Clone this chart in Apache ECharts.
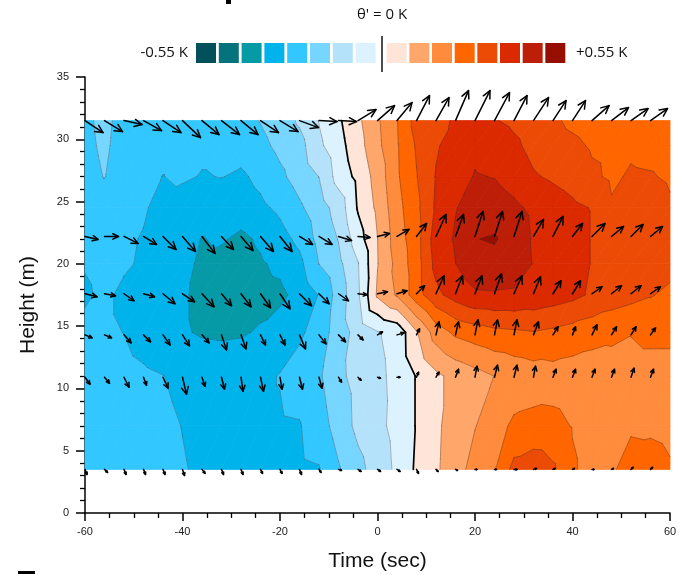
<!DOCTYPE html>
<html>
<head>
<meta charset="utf-8">
<script src="https://cdn.jsdelivr.net/npm/echarts@6/dist/echarts.min.js"></script>
<style>
  html, body { margin: 0; padding: 0; background: #fff; }
  #chart { width: 679px; height: 575px; }
</style>
</head>
<body>
<div id="chart"></div>
<script>
// grid of theta' (K), one array per height, columns = times
const times = [-60, -56, -52, -48, -44, -40, -36, -32, -28, -24, -20, -16, -12, -8, -4, 0, 4, 8, 12, 16, 20, 24, 28, 32, 36, 40, 44, 48, 52, 56, 60]
const heights = [3.5, 7, 11, 14.5, 17.5, 20, 22, 24.5, 27, 29.5, 31.5]

const theta_h3_5 = [-0.238, -0.245, -0.252, -0.259, -0.266, -0.277, -0.287, -0.294, -0.298, -0.298, -0.294, -0.291, -0.284, -0.217, -0.161, -0.109, -0.056, 0.011, 0.060, 0.109, 0.168, 0.207, 0.301, 0.322, 0.291, 0.217, 0.189, 0.203, 0.231, 0.235, 0.217]
const theta_h7 = [-0.238, -0.245, -0.252, -0.259, -0.270, -0.281, -0.291, -0.298, -0.298, -0.294, -0.287, -0.284, -0.245, -0.179, -0.123, -0.088, -0.049, 0.004, 0.056, 0.105, 0.137, 0.179, 0.224, 0.231, 0.228, 0.207, 0.189, 0.189, 0.203, 0.200, 0.193]
const theta_h11 = [-0.245, -0.252, -0.259, -0.270, -0.279, -0.291, -0.301, -0.305, -0.301, -0.294, -0.277, -0.252, -0.221, -0.154, -0.119, -0.084, -0.053, 0.004, 0.056, 0.091, 0.116, 0.141, 0.161, 0.175, 0.182, 0.175, 0.168, 0.172, 0.175, 0.175, 0.175]
const theta_h14_5 = [-0.266, -0.270, -0.281, -0.305, -0.322, -0.343, -0.357, -0.361, -0.357, -0.343, -0.319, -0.291, -0.252, -0.172, -0.116, -0.074, -0.049, 0.063, 0.172, 0.224, 0.245, 0.263, 0.270, 0.277, 0.266, 0.252, 0.238, 0.228, 0.214, 0.231, 0.231]
const theta_h17_5 = [-0.287, -0.270, -0.291, -0.308, -0.322, -0.343, -0.364, -0.375, -0.378, -0.371, -0.364, -0.329, -0.277, -0.182, -0.081, 0.081, 0.147, 0.249, 0.333, 0.378, 0.410, 0.413, 0.410, 0.399, 0.385, 0.368, 0.340, 0.315, 0.301, 0.284, 0.266]
const theta_h20 = [-0.277, -0.266, -0.273, -0.287, -0.308, -0.333, -0.361, -0.371, -0.375, -0.357, -0.336, -0.298, -0.209, -0.158, -0.074, 0.067, 0.161, 0.249, 0.371, 0.419, 0.462, 0.469, 0.455, 0.417, 0.399, 0.378, 0.347, 0.322, 0.315, 0.308, 0.301]
const theta_h22 = [-0.252, -0.259, -0.270, -0.284, -0.308, -0.329, -0.352, -0.343, -0.364, -0.340, -0.305, -0.263, -0.189, -0.137, -0.032, 0.069, 0.175, 0.252, 0.385, 0.427, 0.488, 0.496, 0.462, 0.413, 0.392, 0.375, 0.347, 0.322, 0.315, 0.308, 0.301]
const theta_h24_5 = [-0.245, -0.252, -0.263, -0.273, -0.301, -0.315, -0.322, -0.329, -0.315, -0.294, -0.266, -0.221, -0.172, -0.112, 0.007, 0.084, 0.186, 0.263, 0.361, 0.417, 0.448, 0.455, 0.434, 0.406, 0.385, 0.364, 0.347, 0.287, 0.315, 0.308, 0.287]
const theta_h27 = [-0.231, -0.208, -0.245, -0.266, -0.281, -0.270, -0.284, -0.278, -0.291, -0.263, -0.224, -0.182, -0.139, -0.042, 0.018, 0.098, 0.200, 0.277, 0.354, 0.392, 0.424, 0.418, 0.392, 0.357, 0.340, 0.322, 0.291, 0.270, 0.287, 0.284, 0.273]
const theta_h29_5 = [-0.224, -0.200, -0.235, -0.252, -0.263, -0.266, -0.266, -0.266, -0.252, -0.228, -0.193, -0.165, -0.084, -0.025, 0.042, 0.123, 0.203, 0.287, 0.343, 0.378, 0.406, 0.392, 0.364, 0.329, 0.308, 0.294, 0.273, 0.266, 0.270, 0.263, 0.259]
const theta_h31_5 = [-0.221, -0.196, -0.231, -0.245, -0.252, -0.252, -0.252, -0.245, -0.231, -0.207, -0.175, -0.130, -0.067, -0.011, 0.056, 0.130, 0.207, 0.308, 0.340, 0.354, 0.371, 0.354, 0.336, 0.315, 0.291, 0.266, 0.252, 0.245, 0.245, 0.252, 0.252]

const thetaRows = [theta_h3_5, theta_h7, theta_h11, theta_h14_5, theta_h17_5, theta_h20, theta_h22, theta_h24_5, theta_h27, theta_h29_5, theta_h31_5]

// contour levels (K) and the 16 band colours
const levels = [-0.49, -0.42, -0.35, -0.28, -0.21, -0.14, -0.07, 0, 0.07, 0.14, 0.21, 0.28, 0.35, 0.42, 0.49]
const bandColors = [
  '#02505A', '#05737C', '#069AA7', '#00B4EB', '#33C7FF', '#77D6FF', '#B5E2FB', '#DCF2FE',
  '#FFE5D8', '#FFA66B', '#FF8B3D', '#FF6600', '#EC4B06', '#DB2A00', '#BD1E07', '#960E00',
]

// wind vectors (m/s): u horizontal, w vertical, one array per height
const arrowTimes = [-60, -56, -52, -48, -44, -40, -36, -32, -28, -24, -20, -16, -12, -8, -4, 0, 4, 8, 12, 16, 20, 24, 28, 32, 36, 40, 44, 48, 52, 56]
const arrowHeights = [3.5, 10.9, 14.3, 17.6, 22.2, 31.5]

const u_h3_5 = [0.2, 0.3, 0.2, 0.2, 0.2, 0.2, 0.3, 0.2, 0.2, 0.2, 0.2, 0.2, 0.2, 0.3, 0.3, 0.3, 0.3, 0.2, 0.2, 0.2, 0.2, 0.2, 0.3, 0.3, 0.2, 0.2, 0.2, 0.2, 0.2, 0.2]
const w_h3_5 = [-0.5, -0.3, -0.5, -0.5, -0.5, -0.6, -0.4, -0.5, -0.5, -0.4, -0.4, -0.5, -0.3, -0.1, -0.2, -0.2, -0.2, -0.4, -0.2, -0.1, 0, 0, 0, 0.1, 0.1, 0.1, 0, 0.1, 0.2, 0.2]
const u_h10_9 = [0.5, 0.5, 0.5, 0.3, 0.5, 0.4, 0.3, 0.3, 0.2, 0.3, 0.2, 0.3, 0.3, 0.3, 0.3, 0.3, 0.3, 0.2, 0.3, 0.3, 0.2, 0.3, 0.3, 0.2, 0.3, 0.3, 0.3, 0.3, 0.3, 0.3]
const w_h10_9 = [-0.7, -0.6, -1.0, -0.8, -1.1, -1.7, -0.9, -1.2, -1.4, -1.4, -1.2, -1.2, -1.1, -0.5, -0.3, -0.1, 0, 0.5, 0.5, 0.8, 1.1, 1.2, 1.2, 1.1, 0.8, 0.8, 0.8, 0.8, 0.9, 0.8]
const u_h14_3 = [0.7, 0.7, 0.7, 0.7, 0.7, 0.7, 0.7, 0.5, 0.5, 0.5, 0.5, 0.6, 0.7, 0.7, 0.5, 0.5, 0.7, 0.3, 0.3, 0.3, 0.3, 0.3, 0.3, 0.5, 0.5, 0.3, 0.5, 0.5, 0.5, 0.5]
const w_h14_3 = [-0.3, -0.3, -0.8, -0.7, -1.0, -1.1, -0.8, -1.5, -1.4, -1.0, -1.0, -1.4, -0.9, -0.7, -0.5, 0.3, 0.2, 0.6, 1.3, 1.3, 1.5, 1.5, 1.5, 1.3, 0.8, 0.8, 1.0, 0.8, 0.8, 0.7]
const u_h17_6 = [1.2, 1.1, 1.0, 1.1, 1.2, 1.2, 1.2, 1.0, 1.0, 1.0, 1.0, 1.2, 1.0, 1.0, 0.9, 1.0, 1.0, 0.8, 0.8, 0.7, 0.7, 0.7, 0.8, 0.7, 0.8, 0.8, 1.0, 1.0, 1.0, 1.0]
const w_h17_6 = [-0.3, -0.2, -0.7, -0.3, -1.0, -0.8, -1.3, -1.2, -1.3, -1.4, -1.5, -1.2, -1.0, -0.7, -0.1, 0.2, 0.3, 0.8, 1.8, 1.8, 1.8, 2.0, 1.8, 1.7, 1.3, 1.3, 0.7, 0.8, 0.8, 0.7]
const u_h22_2 = [1.3, 1.4, 1.4, 1.3, 1.3, 1.3, 1.3, 1.2, 1.2, 1.3, 1.2, 1.3, 1.3, 1.3, 1.2, 1.2, 1.2, 1.0, 1.0, 0.8, 0.8, 0.8, 0.8, 1.0, 1.0, 1.0, 1.3, 1.2, 1.2, 1.2]
const w_h22_2 = [-0.3, 0, -0.7, -0.8, -1.3, -1.5, -1.7, -1.3, -1.4, -1.5, -1.5, -0.8, -0.8, -0.4, -0.1, 0.3, 0.7, 1.3, 2.2, 2.2, 2.5, 2.5, 2.5, 1.7, 2.0, 1.3, 1.3, 1.0, 1.2, 1.0]
const u_h31_5 = [1.8, 1.8, 1.8, 1.8, 1.8, 1.8, 1.7, 1.8, 1.7, 1.8, 1.8, 1.9, 1.8, 1.8, 1.8, 1.7, 1.5, 1.3, 1.3, 1.3, 1.5, 1.5, 1.3, 1.5, 1.3, 1.3, 1.7, 1.7, 1.7, 1.7]
const w_h31_5 = [-1.2, -1.1, -0.4, -1.0, -1.2, -1.7, -1.4, -1.4, -1.4, -1.2, -1.1, -0.7, -0.1, -0.1, 1.1, 1.5, 1.8, 2.5, 2.3, 3.0, 3.0, 2.8, 2.5, 2.3, 2.0, 2.0, 1.5, 1.3, 1.2, 1.2]

const uRows = [u_h3_5, u_h10_9, u_h14_3, u_h17_6, u_h22_2, u_h31_5]
const wRows = [w_h3_5, w_h10_9, w_h14_3, w_h17_6, w_h22_2, w_h31_5]

const ARROW_PX = 10 // pixels per m/s

const chart = echarts.init(document.getElementById('chart'))

// one item per grid cell
const cells = []
for (let j = 0; j < heights.length - 1; j++) {
  for (let i = 0; i < times.length - 1; i++) {
    cells.push([times[i], heights[j], i, j])
  }
}

const arrows = []
arrowHeights.forEach((h, r) => {
  arrowTimes.forEach((t, k) => {
    arrows.push([t, h, uRows[r][k], wRows[r][k]])
  })
})

// keep the part of a polygon above (or below) a level
function clip(pts, vals, level, above) {
  const op = [], ov = []
  const n = pts.length
  for (let a = 0; a < n; a++) {
    const b = (a + 1) % n
    const va = vals[a], vb = vals[b]
    const inA = above ? va >= level : va <= level
    const inB = above ? vb >= level : vb <= level
    if (inA) { op.push(pts[a]); ov.push(va) }
    if (inA !== inB) {
      const f = (level - va) / (vb - va)
      op.push([pts[a][0] + f * (pts[b][0] - pts[a][0]), pts[a][1] + f * (pts[b][1] - pts[a][1])])
      ov.push(level)
    }
  }
  return [op, ov]
}

function cellTriangles(api) {
  const i = api.value(2), j = api.value(3)
  const p00 = api.coord([times[i], heights[j]])
  const p10 = api.coord([times[i + 1], heights[j]])
  const p11 = api.coord([times[i + 1], heights[j + 1]])
  const p01 = api.coord([times[i], heights[j + 1]])
  const v00 = thetaRows[j][i], v10 = thetaRows[j][i + 1]
  const v11 = thetaRows[j + 1][i + 1], v01 = thetaRows[j + 1][i]
  return [
    [[p00, p10, p11], [v00, v10, v11]],
    [[p00, p11, p01], [v00, v11, v01]],
  ]
}

function renderFill(params, api) {
  const children = []
  cellTriangles(api).forEach(([pts, vals]) => {
    const lo = Math.min(...vals), hi = Math.max(...vals)
    for (let k = 0; k < bandColors.length; k++) {
      const bLo = k === 0 ? -Infinity : levels[k - 1]
      const bHi = k === levels.length ? Infinity : levels[k]
      if (hi < bLo || lo > bHi) continue
      let [p, v] = [pts, vals]
      if (isFinite(bLo)) [p, v] = clip(p, v, bLo, true)
      if (p.length < 3) continue
      if (isFinite(bHi)) [p, v] = clip(p, v, bHi, false)
      if (p.length < 3) continue
      children.push({
        type: 'polygon',
        shape: { points: p },
        style: { fill: bandColors[k], stroke: bandColors[k], lineWidth: 0.8 },
      })
    }
  })
  return { type: 'group', children }
}

function renderLines(params, api) {
  const children = []
  cellTriangles(api).forEach(([pts, vals]) => {
    levels.forEach((L) => {
      const seg = []
      for (let a = 0; a < 3; a++) {
        const b = (a + 1) % 3
        const va = vals[a], vb = vals[b]
        if ((va - L) * (vb - L) < 0) {
          const f = (L - va) / (vb - va)
          seg.push([pts[a][0] + f * (pts[b][0] - pts[a][0]), pts[a][1] + f * (pts[b][1] - pts[a][1])])
        }
      }
      if (seg.length === 2) {
        const zero = L === 0
        children.push({
          type: 'line',
          shape: { x1: seg[0][0], y1: seg[0][1], x2: seg[1][0], y2: seg[1][1] },
          style: { stroke: zero ? '#000' : 'rgba(50,40,40,0.55)', lineWidth: zero ? 1.7 : 0.6, lineCap: 'round' },
        })
      }
    })
  })
  return { type: 'group', children }
}

function renderArrow(params, api) {
  const tail = api.coord([api.value(0), api.value(1)])
  const dx = api.value(2) * ARROW_PX, dy = -api.value(3) * ARROW_PX
  const len = Math.sqrt(dx * dx + dy * dy)
  const tip = [tail[0] + dx, tail[1] + dy]
  const ang = Math.atan2(dy, dx)
  const hl = Math.min(8.5, len * 0.45)
  const spread = 0.45
  const left = [tip[0] - hl * Math.cos(ang - spread), tip[1] - hl * Math.sin(ang - spread)]
  const right = [tip[0] - hl * Math.cos(ang + spread), tip[1] - hl * Math.sin(ang + spread)]
  const style = { stroke: '#000', lineWidth: 1.5, fill: null, lineCap: 'round', lineJoin: 'round' }
  return {
    type: 'group',
    children: [
      { type: 'line', shape: { x1: tail[0], y1: tail[1], x2: tip[0], y2: tip[1] }, style },
      { type: 'polyline', shape: { points: [left, tip, right] }, style },
    ],
  }
}

// colour key at the top
const legend = []
bandColors.forEach((c, k) => {
  const x = k < 8 ? 196 + k * 22.8 : 386.7 + (k - 8) * 22.66
  legend.push({ type: 'rect', shape: { x, y: 43, width: 20, height: 20 }, style: { fill: c } })
})
legend.push({ type: 'line', shape: { x1: 382, y1: 36, x2: 382, y2: 72 }, style: { stroke: '#111', lineWidth: 1.5 } })
legend.push({ type: 'text', style: { text: '-0.55 K', x: 188, y: 53, align: 'right', verticalAlign: 'middle', fontSize: 15, fontFamily: 'Open Sans', fill: '#111' } })
legend.push({ type: 'text', style: { text: '+0.55 K', x: 576, y: 53, align: 'left', verticalAlign: 'middle', fontSize: 15, fontFamily: 'Open Sans', fill: '#111' } })
legend.push({ type: 'text', style: { text: "\u03B8' = 0 K", x: 382, y: 15, align: 'center', verticalAlign: 'middle', fontSize: 15, fontFamily: 'Open Sans', fill: '#111' } })
legend.push({ type: 'rect', shape: { x: 226, y: 0, width: 5, height: 4 }, style: { fill: '#000' } })
legend.push({ type: 'rect', shape: { x: 18, y: 571, width: 17, height: 3 }, style: { fill: '#000' } })

const axisFont = 'Liberation Sans'

chart.setOption({
  animation: false,
  grid: { left: 85, right: 9, top: 77, bottom: 62, containLabel: false, outerBoundsMode: 'none' },
  xAxis: {
    type: 'value', min: -60, max: 60, interval: 20,
    name: 'Time (sec)', nameLocation: 'middle', nameGap: 38,
    nameTextStyle: { fontSize: 21, fontFamily: axisFont, color: '#111' },
    axisLine: { onZero: false, lineStyle: { color: '#000', width: 1.5 } },
    axisTick: { length: 8, lineStyle: { color: '#000', width: 1.5 } },
    minorTick: { show: true, splitNumber: 4, length: 5, lineStyle: { color: '#000', width: 1.3 } },
    splitLine: { show: false },
    axisLabel: { fontSize: 11, fontFamily: axisFont, color: '#222', margin: 13 },
  },
  yAxis: {
    type: 'value', min: 0, max: 35, interval: 5,
    name: 'Height (m)', nameLocation: 'middle', nameGap: 46,
    nameTextStyle: { fontSize: 21, fontFamily: axisFont, color: '#111', padding: [0, 20, 0, 0] },
    axisLine: { onZero: false, lineStyle: { color: '#000', width: 1.5 } },
    axisTick: { length: 9, lineStyle: { color: '#000', width: 1.5 } },
    minorTick: { show: true, splitNumber: 5, length: 5, lineStyle: { color: '#000', width: 1.3 } },
    splitLine: { show: false },
    axisLabel: { fontSize: 11, fontFamily: axisFont, color: '#222', margin: 16 },
  },
  graphic: legend,
  series: [
    { type: 'custom', data: cells, encode: { x: 0, y: 1 }, renderItem: renderFill, silent: true, clip: false, z: 1 },
    { type: 'custom', data: cells, encode: { x: 0, y: 1 }, renderItem: renderLines, silent: true, clip: false, z: 2 },
    { type: 'custom', data: arrows, encode: { x: 0, y: 1 }, renderItem: renderArrow, silent: true, clip: false, z: 3 },
  ],
})
</script>
</body>
</html>
